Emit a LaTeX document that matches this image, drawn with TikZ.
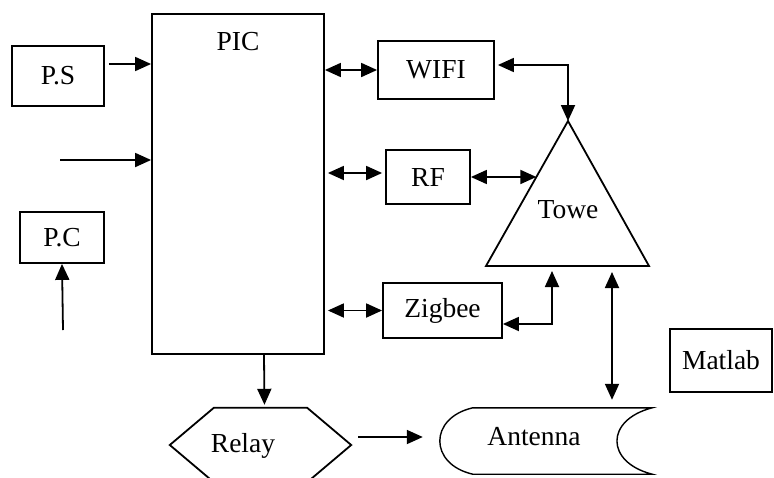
\documentclass[tikz,border=0pt]{standalone}
\usepackage{fontspec}
\setmainfont{Liberation Serif}
\usetikzlibrary{arrows.meta, calc, positioning}

\begin{document}
\begin{tikzpicture}[
    x=1pt, y=-1pt,
    every node/.style={font=\fontsize{27.5}{31}\selectfont},
    block/.style={draw, rectangle, line width=1.8pt, inner sep=0pt},
    link/.style={line width=1.8pt},
    arr/.style={link, -{Triangle[length=16pt, width=14pt]}},
    dbl/.style={link, {Triangle[length=16pt, width=14pt]}-{Triangle[length=16pt, width=14pt]}}
]

    \useasboundingbox (0, 0) rectangle (774, 477);
    \clip (0, 0) rectangle (774, 477);

    % --------------------------------------------------------
    % 1. BLOCKS
    % --------------------------------------------------------

    % controller
    \node (pic) [block, minimum width=172pt, minimum height=340pt] at (238, 184) {};
    \node (pictitle) [below=19pt of pic.north, inner sep=0pt] {PIC};

    % left side
    \node (ps) [block, minimum width=92pt, minimum height=60pt] at (58, 76) {P.S};
    \node (pc) [block, minimum width=84pt, minimum height=51pt] at (62, 237.5) {P.C};

    % radio modules
    \node (wifi) [block, minimum width=116pt, minimum height=58pt] at (436, 70) {WIFI};
    \node (rf) [block, minimum width=84pt, minimum height=54pt] at (428, 177) {RF};
    \node (zigbee) [block, minimum width=119pt, minimum height=55pt] at (442.5, 310.5) {Zigbee};

    \node (matlab) [block, minimum width=102pt, minimum height=63pt] at (721, 360.5) {Matlab};

    % tower
    \coordinate (apex) at (568, 121);
    \coordinate (baseL) at (486, 266);
    \coordinate (baseR) at (649, 266);
    \draw [link] (apex) -- (baseL) -- (baseR) -- cycle;
    \node (towe) at (568, 210) {Towe};

    % relay (hexagon)
    \node (relay) [minimum width=181pt, minimum height=74pt, inner sep=0pt] at (260.5, 445) {};
    \draw [link] ([xshift=44pt]relay.north west) -- ([xshift=-44pt]relay.north east)
        -- (relay.east) -- ([xshift=-44pt]relay.south east)
        -- ([xshift=44pt]relay.south west) -- (relay.west) -- cycle;
    \node (relaytext) at (243, 446) {Relay};

    % antenna (stored data shape)
    \node (ant) [minimum width=212pt, minimum height=66pt, inner sep=0pt] at (546, 441) {};
    \draw [line width=1.4pt] ([xshift=33pt]ant.north west) -- (ant.north east)
        .. controls +(-47, 12) and +(-47, -12) .. (ant.south east)
        -- ([xshift=33pt]ant.south west)
        .. controls +(-44, -10) and +(-44, 10) .. ([xshift=33pt]ant.north west) -- cycle;
    \node (anttext) at (534, 437) {Antenna};

    % --------------------------------------------------------
    % 2. CONNECTIONS
    % --------------------------------------------------------

    % inputs
    \draw [arr, shorten <=4pt] ([yshift=12pt]ps.east) -- ([yshift=12pt]ps.east -| pic.west);
    \coordinate (in1) at (60, 160);
    \draw [arr] (in1) -- (in1 -| pic.west);
    \coordinate (pcin) at (63, 330);
    \draw [arr] (pcin) -- (pc.south);

    % PIC <-> modules
    \draw [dbl] (wifi.west -| pic.east) -- (wifi.west);
    \draw [dbl, shorten <=3pt, shorten >=3pt] ([yshift=4pt]rf.west -| pic.east) -- ([yshift=4pt]rf.west);
    \draw [dbl, shorten <=3pt] (zigbee.west -| pic.east) -- (zigbee.west);

    % modules <-> tower
    \draw [dbl, shorten <=3pt] ([yshift=5pt]wifi.east) -| (apex);
    \draw [dbl] (rf.east) -- ($(apex)!0.386!(baseL)$);
    \coordinate (zport) at (552, 266);
    \draw [dbl, shorten >=5pt] ([yshift=-13.5pt]zigbee.east) -| (zport);

    % tower <-> antenna
    \coordinate (mast) at (612, 266);
    \draw [dbl, shorten <=6pt, shorten >=8pt] (mast) -- (mast |- ant.north);

    % output
    \draw [arr, shorten >=3pt] ([xshift=26pt]pic.south) -- ([xshift=4pt]relay.north);
    \draw [arr, shorten <=7pt, shorten >=17pt] ([yshift=8pt]relay.east) -- ([yshift=4pt]ant.west);

\end{tikzpicture}
\end{document}
